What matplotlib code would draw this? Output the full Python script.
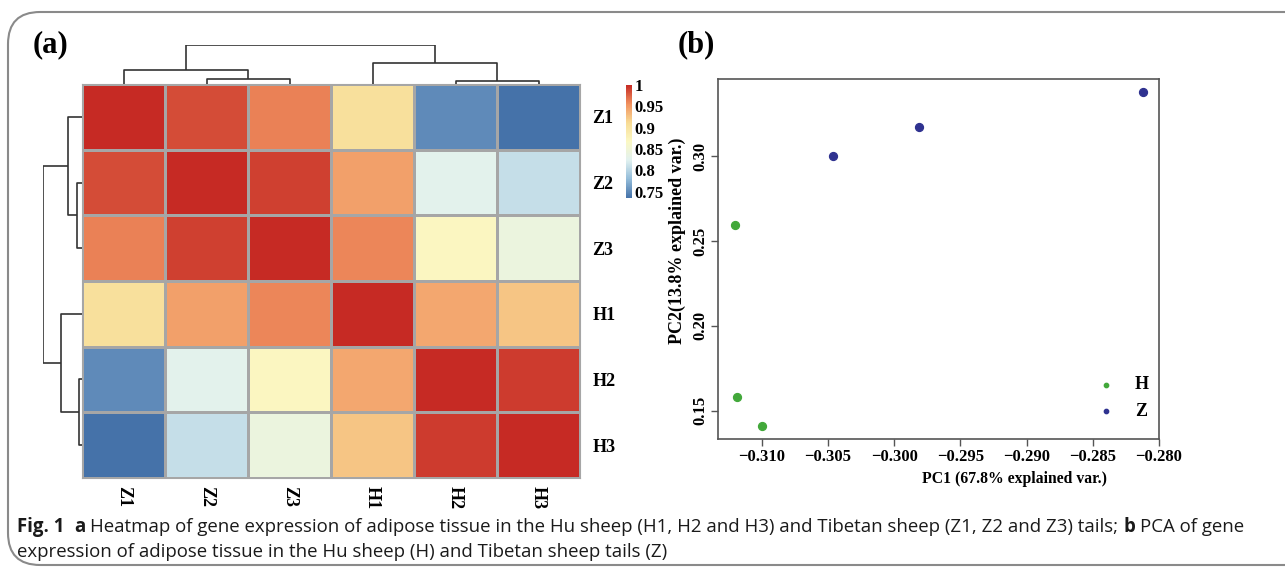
import numpy as np
import matplotlib
matplotlib.use('Agg')
import matplotlib.pyplot as plt
from matplotlib.colors import LinearSegmentedColormap
from matplotlib.patches import FancyBboxPatch

# --- dados ---
amostras = ['Z1', 'Z2', 'Z3', 'H1', 'H2', 'H3']
corr_Z1 = [1.000, 0.985, 0.962, 0.905, 0.750, 0.736]
corr_Z2 = [0.985, 1.000, 0.990, 0.947, 0.828, 0.808]
corr_Z3 = [0.962, 0.990, 1.000, 0.960, 0.870, 0.841]
corr_H1 = [0.905, 0.947, 0.960, 1.000, 0.943, 0.925]
corr_H2 = [0.750, 0.828, 0.870, 0.943, 1.000, 0.992]
corr_H3 = [0.736, 0.808, 0.841, 0.925, 0.992, 1.000]

# agrupamento: (no_esq, no_dir, altura); folhas 0-5, novos nos 6..
fusoes = [(1, 2, 0.12), (0, 6, 0.35), (4, 5, 0.07), (3, 8, 0.55), (7, 9, 1.0)]

cbar_ticks = [0.75, 0.8, 0.85, 0.9, 0.95, 1]
cbar_labels = ['0.75', '0.8', '0.85', '0.9', '0.95', '1']

grupos = ['H', 'Z']
pc1_H = [-0.31204, -0.31189, -0.3100]
pc2_H = [0.2595, 0.1579, 0.1408]
pc1_Z = [-0.30459, -0.29812, -0.28122]
pc2_Z = [0.3004, 0.3173, 0.3377]

W, H = 1285, 571
serif = 'Liberation Serif'
cap_font = ['Open Sans', 'DejaVu Sans']

fig = plt.figure(figsize=(W / 100, H / 100), dpi=100)


def fx(px):
    return px / W


def fy(py):
    return 1 - py / H


# moldura arredondada
moldura = FancyBboxPatch((fx(8), fy(565)), fx(1400), fy(12) - fy(565),
                         boxstyle='round,pad=0,rounding_size=0.025',
                         transform=fig.transFigure, fill=False,
                         edgecolor='#8a8a8a', linewidth=1.5, mutation_aspect=W / H)
fig.patches.append(moldura)

# --- (a) heatmap ---
matriz = np.array([corr_Z1, corr_Z2, corr_Z3, corr_H1, corr_H2, corr_H3])
cores = ['#4572a9', '#93bcd9', '#e1f1f0', '#fbf8c4', '#f8dc95', '#f1915f', '#c62a24']
cmap = LinearSegmentedColormap.from_list('rdylbu_r', cores)

ax_hm = fig.add_axes([fx(82), fy(478), fx(580) - fx(82), fy(84) - fy(478)])
malha = ax_hm.pcolormesh(matriz, cmap=cmap, vmin=0.735, vmax=1.0,
                         edgecolors='#a6a6a6', linewidth=1.0)
ax_hm.set_xlim(0, 6)
ax_hm.set_ylim(6, 0)
for s in ax_hm.spines.values():
    s.set_color('#a6a6a6')
ax_hm.set_xticks(np.arange(6) + 0.5)
ax_hm.set_xticklabels(amostras, rotation=-90, fontfamily=serif, fontweight='bold', fontsize=13)
ax_hm.yaxis.tick_right()
ax_hm.set_yticks(np.arange(6) + 0.5)
ax_hm.set_yticklabels(amostras, fontfamily=serif, fontweight='bold', fontsize=13)
ax_hm.tick_params(axis='y', length=0, pad=9)
ax_hm.tick_params(axis='x', length=0, pad=6)


def desenha_dendro(ax, orient):
    pos = {i: i + 0.5 for i in range(6)}
    alt = {i: 0.0 for i in range(6)}
    for k, (a, b, h) in enumerate(fusoes):
        xa, xb = pos[a], pos[b]
        xs = [xa, xa, xb, xb]
        ys = [alt[a], h, h, alt[b]]
        if orient == 'top':
            ax.plot(xs, ys, color='#333333', lw=1.2, solid_capstyle='butt')
        else:
            ax.plot(ys, xs, color='#333333', lw=1.2, solid_capstyle='butt')
        pos[6 + k] = (xa + xb) / 2
        alt[6 + k] = h
    ax.axis('off')


ax_top = fig.add_axes([fx(82), fy(84), fx(580) - fx(82), fy(45) - fy(84)])
desenha_dendro(ax_top, 'top')
ax_top.set_xlim(0, 6)
ax_top.set_ylim(0, 1.0)

ax_left = fig.add_axes([fx(43), fy(478), fx(82) - fx(43), fy(84) - fy(478)])
desenha_dendro(ax_left, 'left')
ax_left.set_xlim(1.0, 0)
ax_left.set_ylim(6, 0)

cax = fig.add_axes([fx(626), fy(198), fx(6), fy(85) - fy(198)])
cb = fig.colorbar(malha, cax=cax, ticks=cbar_ticks)
cb.outline.set_visible(False)
cb.ax.set_yticklabels(cbar_labels, fontfamily=serif, fontweight='bold', fontsize=12)
cb.ax.tick_params(length=0, pad=2)

fig.text(fx(33), fy(45), '(a)', fontfamily=serif, fontweight='bold', fontsize=22, va='center')
fig.text(fx(678), fy(45), '(b)', fontfamily=serif, fontweight='bold', fontsize=22, va='center')

# --- (b) PCA ---
ax_pca = fig.add_axes([fx(718), fy(439), fx(1159) - fx(718), fy(79) - fy(439)])
ax_pca.scatter(pc1_H, pc2_H, s=32, color='#42a83a', label=grupos[0], zorder=3)
ax_pca.scatter(pc1_Z, pc2_Z, s=32, color='#2f3290', label=grupos[1], zorder=3)
ax_pca.set_xlim(-0.3133, -0.280)
ax_pca.set_ylim(0.1333, 0.3456)
ax_pca.set_xticks([-0.310, -0.305, -0.300, -0.295, -0.290, -0.285, -0.280])
ax_pca.set_xticklabels(['\u22120.310', '\u22120.305', '\u22120.300', '\u22120.295',
                        '\u22120.290', '\u22120.285', '\u22120.280'])
ax_pca.set_yticks([0.15, 0.20, 0.25, 0.30])
ax_pca.set_yticklabels(['0.15', '0.20', '0.25', '0.30'], rotation=90, va='center')
for lab in ax_pca.get_xticklabels() + ax_pca.get_yticklabels():
    lab.set_fontfamily(serif)
    lab.set_fontweight('bold')
    lab.set_fontsize(12)
for s in ax_pca.spines.values():
    s.set_color('#555555')
    s.set_linewidth(1.2)
ax_pca.tick_params(direction='out', length=5, width=1, color='#555555', pad=2)
ax_pca.set_xlabel('PC1 (67.8% explained var.)', fontfamily=serif, fontweight='bold', fontsize=11.3)
ax_pca.set_ylabel('PC2(13.8% explained var.)', fontfamily=serif, fontweight='bold', fontsize=13)
ax_pca.xaxis.set_label_coords((1015 - 718) / 441, -0.09)
ax_pca.yaxis.set_label_coords(-(718 - 686) / 441, (439 - 241) / 360)
leg = ax_pca.legend(loc='lower right', frameon=False, markerscale=0.55,
                    prop={'family': serif, 'weight': 'bold', 'size': 13},
                    bbox_to_anchor=(1.014, 0.007), handletextpad=0.6, labelspacing=0.55)

# --- legenda da figura ---
fig.canvas.draw()
renderer = fig.canvas.get_renderer()
tam_cap = 13.4


def largura(texto, peso):
    t = fig.text(0, 0, texto, fontfamily=cap_font, fontweight=peso, fontsize=tam_cap)
    w = t.get_window_extent(renderer).width
    t.remove()
    return w


espaco = largura('x x', 'normal') - largura('xx', 'normal')


def escreve(x, y, partes):
    for texto, peso, gap in partes:
        t = fig.text(fx(x), fy(y), texto, fontfamily=cap_font, fontweight=peso,
                     fontsize=tam_cap, color='#1a1a1a', va='baseline')
        x += t.get_window_extent(renderer).width + gap * espaco


escreve(17, 532, [
    ('Fig. 1', 'bold', 2),
    ('a', 'bold', 1),
    ('Heatmap of gene expression of adipose tissue in the Hu sheep (H1, H2 and H3) and '
     'Tibetan sheep (Z1, Z2 and Z3) tails;', 'normal', 1),
    ('b', 'bold', 1),
    ('PCA of gene', 'normal', 0),
])
escreve(17, 557, [
    ('expression of adipose tissue in the Hu sheep (H) and Tibetan sheep tails (Z)', 'normal', 0),
])

fig.savefig('out.png', dpi=100)
